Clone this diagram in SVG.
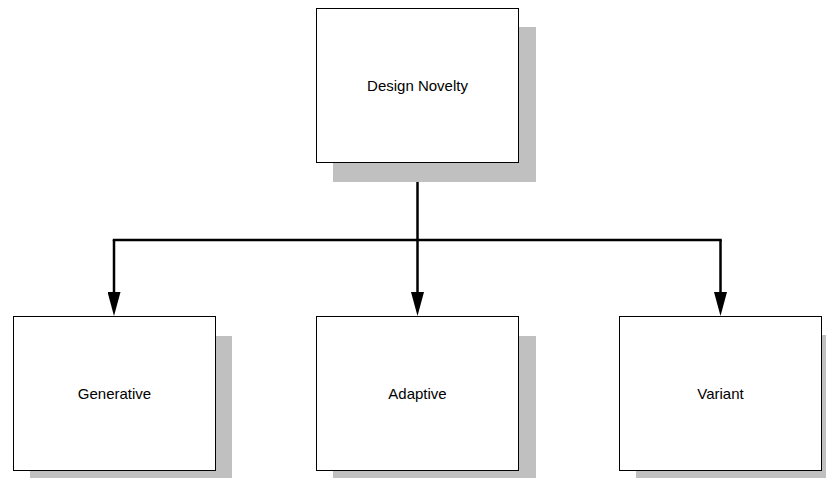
<svg xmlns="http://www.w3.org/2000/svg" width="826" height="487" viewBox="0 0 826 487">
  <style>
    .shadow { fill: #c0c0c0; }
    .box { fill: #ffffff; stroke: #000000; stroke-width: 1; }
    .label { font-family: "Liberation Sans", Arial, sans-serif; font-size: 15px; fill: #000000; text-anchor: middle; }
    .wire { fill: none; stroke: #000000; stroke-width: 2.5; }
  </style>
  <defs>
    <!-- filled head, 24 long x 13 wide; drawn beyond the end of its line -->
    <marker id="arrow" markerUnits="userSpaceOnUse" markerWidth="24" markerHeight="13" refX="0" refY="6.5" orient="auto" viewBox="0 0 24 13">
      <path d="M0,0 L24,6.5 L0,13 Z" fill="#000000"/>
    </marker>
  </defs>

  <g id="connectors">
    <path class="wire" d="M417.5,162 V240"/>
    <path class="wire" d="M112.75,240 H721.75"/>
    <path class="wire" d="M114,240 V292" marker-end="url(#arrow)"/>
    <path class="wire" d="M417.5,240 V292" marker-end="url(#arrow)"/>
    <path class="wire" d="M720.5,240 V292" marker-end="url(#arrow)"/>
  </g>

  <g id="design-novelty">
    <rect class="shadow" x="333" y="27" width="203" height="155"/>
    <rect class="box" x="316.5" y="8.5" width="202" height="154"/>
    <text class="label" x="417.5" y="91">Design Novelty</text>
  </g>

  <g id="generative">
    <rect class="shadow" x="30" y="336" width="202" height="142"/>
    <rect class="box" x="13.5" y="316.5" width="202" height="154"/>
    <text class="label" x="114.5" y="399">Generative</text>
  </g>

  <g id="adaptive">
    <rect class="shadow" x="333" y="336" width="203" height="142"/>
    <rect class="box" x="316.5" y="316.5" width="202" height="154"/>
    <text class="label" x="417.5" y="399">Adaptive</text>
  </g>

  <g id="variant">
    <rect class="shadow" x="636" y="335" width="190" height="143"/>
    <rect class="box" x="619.5" y="316.5" width="202" height="154"/>
    <text class="label" x="720.5" y="399">Variant</text>
  </g>
</svg>
